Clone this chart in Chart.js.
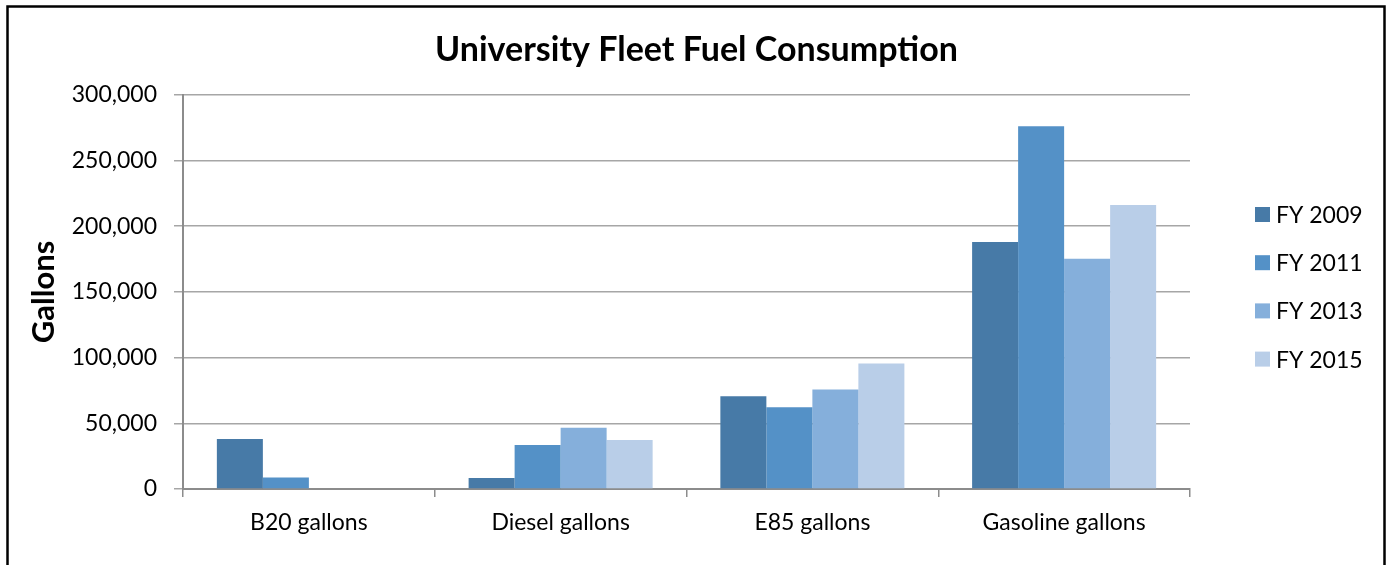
<!DOCTYPE html>
<html>
<head>
<meta charset="utf-8">
<title>University Fleet Fuel Consumption</title>
<script src="https://cdn.jsdelivr.net/npm/chart.js@4.4.1/dist/chart.umd.min.js"></script>
<style>
  html, body { margin: 0; padding: 0; background: #fff; }
  canvas { display: block; }
</style>
</head>
<body>
<canvas id="grafico-combustible" width="1393" height="565"></canvas>
<script>
// datos del grafico
const categorias = ['B20 gallons', 'Diesel gallons', 'E85 gallons', 'Gasoline gallons'];
const anios = ['FY 2009', 'FY 2011', 'FY 2013', 'FY 2015'];
const fy2009 = [38000, 8400, 70600, 188000];
const fy2011 = [8700, 33500, 62200, 276000];
const fy2013 = [0, 46700, 75700, 175300];
const fy2015 = [0, 37300, 95500, 216200];
const ticksY = [0, 50000, 100000, 150000, 200000, 250000, 300000];

const colores = ['#477aa7', '#5491c7', '#85afdb', '#b9cee8'];
const series = [fy2009, fy2011, fy2013, fy2015];
const fuente = 'Lato, "Open Sans", sans-serif';

// marco negro alrededor del grafico
const marco = {
    id: 'marco',
    afterDraw(chart) {
        const ctx = chart.ctx;
        ctx.save();
        ctx.strokeStyle = '#000';
        ctx.lineWidth = 2.5;
        ctx.strokeRect(7.5, 6.5, 1377, 600);
        ctx.restore();
    }
};

// leyenda a la derecha, dibujada a mano
const leyenda = {
    id: 'leyenda',
    afterDraw(chart) {
        const ctx = chart.ctx;
        ctx.save();
        ctx.font = '23px ' + fuente;
        ctx.textBaseline = 'middle';
        ctx.textAlign = 'left';
        chart.data.datasets.forEach((ds, i) => {
            const y = 214.5 + i * 48.2;
            ctx.fillStyle = ds.backgroundColor;
            ctx.fillRect(1255, y - 7.5, 15, 15);
            ctx.fillStyle = '#000';
            ctx.fillText(ds.label, 1276, y + 1);
        });
        ctx.restore();
    }
};

const ctx = document.getElementById('grafico-combustible').getContext('2d');
const miGrafico = new Chart(ctx, {
    type: 'bar',
    data: {
        labels: categorias,
        datasets: anios.map((anio, i) => ({
            label: anio,
            data: series[i],
            backgroundColor: colores[i],
            borderWidth: 0,
            barPercentage: 1,
            categoryPercentage: 0.731
        }))
    },
    options: {
        responsive: false,
        animation: false,
        layout: { padding: 0 },
        scales: {
            x: {
                grid: {
                    offset: true,
                    drawOnChartArea: false,
                    drawTicks: true,
                    tickLength: 8,
                    color: '#8c8c8c',
                    lineWidth: 1.5
                },
                border: { color: '#8c8c8c', width: 2 },
                ticks: {
                    color: '#000',
                    font: { family: fuente, size: 23 },
                    padding: 12
                },
                afterFit(scale) { scale.height = 76; }
            },
            y: {
                min: 0,
                max: 300000,
                afterBuildTicks(scale) {
                    scale.ticks = ticksY.map(v => ({ value: v }));
                },
                grid: {
                    color: '#a6a6a6',
                    lineWidth: 1.5,
                    tickLength: 9
                },
                border: { color: '#8c8c8c', width: 2 },
                ticks: {
                    color: '#000',
                    font: { family: fuente, size: 23 },
                    padding: 17,
                    callback: function(value) {
                        return value.toLocaleString('en-US');
                    }
                },
                title: {
                    display: true,
                    text: 'Gallons',
                    color: '#000',
                    font: { family: fuente, size: 31, weight: 'bold', lineHeight: 1.2 },
                    padding: { top: 25, bottom: 0 }
                },
                afterFit(scale) { scale.width = 183; }
            },
            // eje vacio a la derecha para dejar sitio a la leyenda
            espacio: {
                type: 'linear',
                position: 'right',
                display: true,
                grid: { display: false },
                border: { display: false },
                ticks: { display: false },
                afterFit(scale) { scale.width = 203; }
            }
        },
        plugins: {
            legend: { display: false },
            tooltip: { enabled: false },
            title: {
                display: true,
                text: 'University Fleet Fuel Consumption',
                color: '#000',
                font: { family: fuente, size: 34, weight: 'bold', lineHeight: 1.2 },
                padding: { top: 30, bottom: 24 }
            }
        }
    },
    plugins: [marco, leyenda]
});
</script>
</body>
</html>
